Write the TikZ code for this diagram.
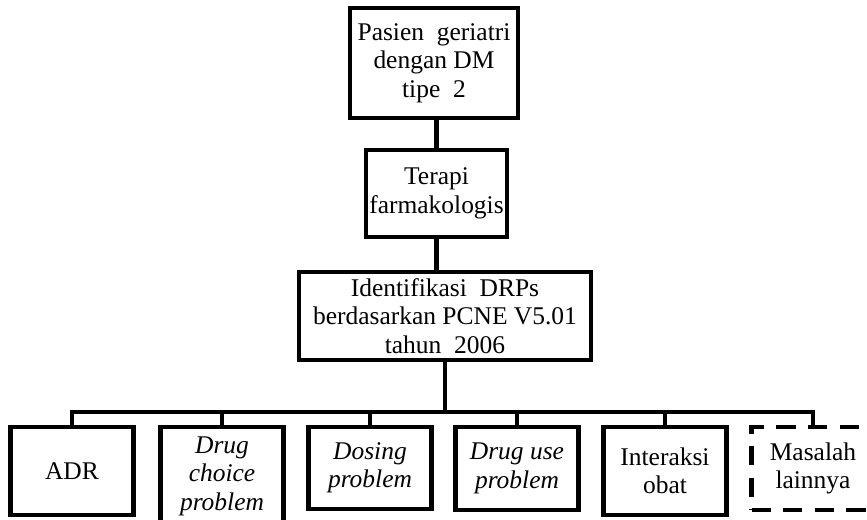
\documentclass[tikz,border=0pt]{standalone}
\usepackage{fontspec}
\setmainfont{Liberation Serif}
\usetikzlibrary{positioning,calc}

\begin{document}
\begin{tikzpicture}[
    x=0.02cm, y=-0.02cm,
    box/.style={
      draw,
      line width=2.3pt,
      align=center,
      inner sep=0pt,
      font=\fontsize{14.5}{16.2}\selectfont
    },
    leaf/.style={
      box,
      anchor=north,
      minimum width=2.46cm
    },
    dashedleaf/.style={
      leaf,
      dash pattern=on 11pt off 7pt
    },
    link/.style={line width=2.3pt}
  ]
    \useasboundingbox (0,0) rectangle (867,520);

    \node[box, minimum width=3.36cm, minimum height=2.2cm] (pasien) at (434,63)
      {Pasien\ \ geriatri\\dengan DM\\tipe\ \ 2};
    \node[box, minimum width=2.82cm, minimum height=1.74cm] (terapi) at (436.5,193.5)
      {Terapi\\farmakologis};
    \node[box, minimum width=5.84cm, minimum height=1.76cm] (drp) at (445,316)
      {Identifikasi\ \ DRPs\\berdasarkan PCNE V5.01\\tahun\ \ 2006};

    \node[leaf, minimum height=1.76cm] (adr) at (72,425) {ADR};
    \node[leaf, minimum height=1.96cm] (choice) at (222,425) {\itshape Drug\\\itshape choice\\\itshape problem};
    \node[leaf, minimum height=1.64cm] (dosing) at (370,425) {\itshape Dosing\\\itshape problem};
    \node[leaf, minimum height=1.66cm] (druguse) at (517,425) {\itshape Drug use\\\itshape problem};
    \node[leaf, minimum height=1.76cm] (interaksi) at (665,425) {Interaksi\\obat};
    \node[dashedleaf, minimum height=1.66cm] (lain) at (813,425) {Masalah\\lainnya};

    \coordinate (bus) at (445,412);

    \draw[link] (terapi.north) -- (terapi.north |- pasien.south);
    \draw[link] (terapi.south) -- (terapi.south |- drp.north);
    \draw[link] (drp.south) -- (bus);
    \draw[link] (adr.north) |- (bus) -| (lain.north);
    \draw[link] (choice.north) -- (choice.north |- bus);
    \draw[link] (dosing.north) -- (dosing.north |- bus);
    \draw[link] (druguse.north) -- (druguse.north |- bus);
    \draw[link] (interaksi.north) -- (interaksi.north |- bus);
  \end{tikzpicture}
\end{document}
